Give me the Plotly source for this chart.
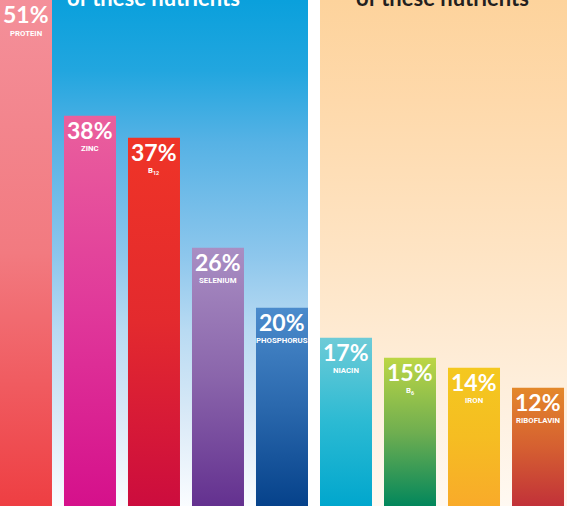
import plotly.graph_objects as go

# ---- data ----
nutrients = ["PROTEIN", "ZINC", "B<sub>12</sub>", "SELENIUM", "PHOSPHORUS",
             "NIACIN", "B<sub>6</sub>", "IRON", "RIBOFLAVIN"]
pct_labels = ["51%", "38%", "37%", "26%", "20%", "17%", "15%", "14%", "12%"]
bar_heights = [51, 39.2, 37, 26, 20, 17, 15, 14, 12]
bar_top_colors = ["#f4909a", "#ea609d", "#ef3427", "#a98ec3", "#4b8bcc",
                  "#6ecbd7", "#bcd645", "#f4c81f", "#e4882a"]
bar_mid_colors = ["#f27a80", "#e0389a", "#e32a2e", "#8a65ab", "#2a68ad",
                  "#2bbad3", "#6fae50", "#f5bd22", "#d55f31"]
bar_bottom_colors = ["#ee3e42", "#d5108b", "#cc0c3e", "#63308f", "#05418a",
                     "#00a6cd", "#00865c", "#f9aa2a", "#c13039"]
left_title = "of these nutrients"
right_title = "of these nutrients"

BAR_W = 0.8125
X_RANGE = [-0.406, 8.453]
Y_RANGE = [0.17, 50.77]

fig = go.Figure()

# background panels (gradient)
blue_scale = [[0.0, "#fbfdff"], [0.17, "#dbeaf7"], [0.35, "#b8daf2"],
              [0.5, "#8cc6ec"], [0.72, "#56b2e5"], [0.86, "#22a6df"], [1.0, "#0aa0dc"]]
peach_scale = [[0.0, "#fff9f2"], [0.2, "#fef0df"], [0.5, "#fee4c4"],
               [0.8, "#fed9ab"], [1.0, "#fdd39c"]]

def panel(x0, x1, scale):
    fig.add_trace(go.Scatter(
        x=[x0, x0, x1, x1, x0], y=[0, Y_RANGE[1], Y_RANGE[1], 0, 0],
        mode="lines", line=dict(width=0), fill="toself",
        fillgradient=dict(type="vertical", colorscale=scale),
        hoverinfo="skip", showlegend=False))

panel(0 + BAR_W / 2, 4 + BAR_W / 2, blue_scale)
panel(5 - BAR_W / 2, X_RANGE[1] + 0.2, peach_scale)

# bars
for i, h in enumerate(bar_heights):
    x0, x1 = i - BAR_W / 2, i + BAR_W / 2
    fig.add_trace(go.Scatter(
        x=[x0, x0, x1, x1, x0], y=[0, h, h, 0, 0],
        mode="lines", line=dict(width=0), fill="toself",
        fillgradient=dict(type="vertical",
                          colorscale=[[0, bar_bottom_colors[i]],
                                      [0.5, bar_mid_colors[i]],
                                      [1, bar_top_colors[i]]]),
        hoverinfo="skip", showlegend=False))
    label_y = min(h, Y_RANGE[1])
    fig.add_annotation(x=i, y=label_y, xref="x", yref="y", text=pct_labels[i],
                       showarrow=False, yanchor="top", yshift=2,
                       font=dict(family="Lato", size=23, color="white", weight="bold"))
    fig.add_annotation(x=i, y=label_y, xref="x", yref="y", text=nutrients[i],
                       showarrow=False, yanchor="middle", yshift=-33,
                       font=dict(family="Roboto", size=7.8,
                                 color="white", weight="bold"))

# cropped titles
fig.add_annotation(x=2, y=Y_RANGE[1], xref="x", yref="y", text=left_title,
                   showarrow=False, yanchor="bottom", yshift=-13,
                   font=dict(family="Lato", size=22, color="white", weight="bold"))
fig.add_annotation(x=6.5, y=Y_RANGE[1], xref="x", yref="y", text=right_title,
                   showarrow=False, yanchor="bottom", yshift=-13,
                   font=dict(family="Lato", size=22, color="#231f20", weight="bold"))

fig.update_layout(
    width=567, height=506, margin=dict(l=0, r=0, t=0, b=0),
    paper_bgcolor="white", plot_bgcolor="white",
    xaxis=dict(range=X_RANGE, visible=False, fixedrange=True),
    yaxis=dict(range=Y_RANGE, visible=False, fixedrange=True),
    showlegend=False,
)

fig.write_html("out.html")
